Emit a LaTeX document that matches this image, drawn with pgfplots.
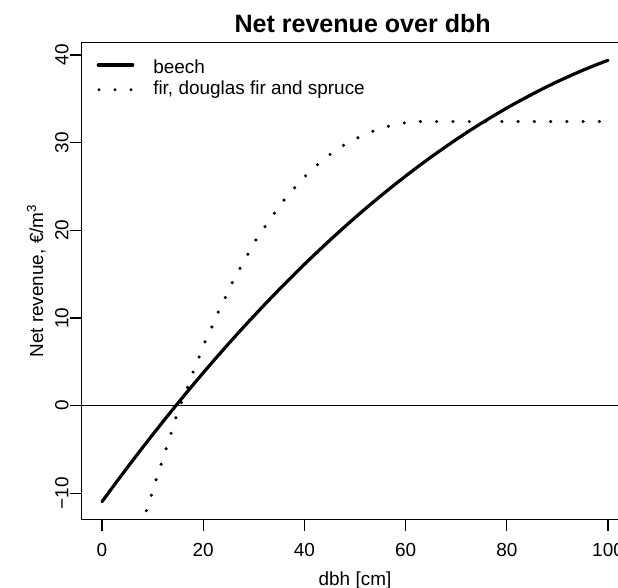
\documentclass[border=0pt]{standalone}
\usepackage{fontspec}
\setmainfont{Liberation Sans}
\usepackage{pgfplots}
\pgfplotsset{compat=1.18}
\newcommand{\rfont}{\fontsize{14.2}{17}\selectfont}
\begin{document}
\begin{tikzpicture}
\begin{axis}[
  at={(0pt,0pt)}, anchor=south west,
  scale only axis, width=409.9pt, height=357.5pt,
  xmin=-4, xmax=104, ymin=-12.95, ymax=41.39,
  axis line style={line width=1pt},
  every tick/.style={black, line width=1pt},
  tick align=outside, xtick pos=bottom, ytick pos=left,
  major tick length=8.8pt,
  xtick={0,20,40,60,80,100}, xticklabels={0,20,40,60,80,100},
  ytick={-10,0,10,20,30,40}, yticklabels={−10,0,10,20,30,40},
  tick label style={font=\rfont},
  xticklabel style={anchor=base, yshift=-19.3pt},
  yticklabel style={xshift=-1.25pt, rotate=90, anchor=base},
  xlabel={dbh [cm]}, ylabel={Net revenue, €/m\textsuperscript{3}},
  every axis x label/.style={at={(axis description cs:0.5,-0.1379)}, anchor=base, font=\rfont},
  every axis y label/.style={at={(axis description cs:-0.0707,0.5)}, rotate=90, anchor=base, font=\rfont},
  title={Net revenue over dbh},
  every axis title/.style={at={(axis description cs:0.514,1.0218)}, anchor=base, font=\fontsize{18.8}{22}\selectfont\bfseries},
  legend style={at={(axis description cs:0,1)}, anchor=north west, xshift=11.25pt, yshift=-10.5pt,
    draw=none, fill=none, inner sep=0pt, outer sep=0pt, font=\rfont,
    row sep=0pt, column sep=12.2pt, cells={anchor=base west, inner sep=0pt}},
]
\addplot[black, line width=2.4pt, line cap=round, line join=round,
  legend image code/.code={\path[draw=none, fill=none] (0pt,-4pt) rectangle (28.2pt,10pt); \draw[black, solid, line width=2.4pt, line cap=round] (1.2pt,6pt) -- (27pt,6pt);}]
coordinates {
(0,-10.94) (2.5,-8.98) (5,-7.05) (7.5,-5.16) (10,-3.31) (12.5,-1.49) (15,0.29) (17.5,2.04)
(20,3.75) (22.5,5.42) (25,7.06) (27.5,8.66) (30,10.22) (32.5,11.75) (35,13.24) (37.5,14.70)
(40,16.12) (42.5,17.50) (45,18.85) (47.5,20.16) (50,21.44) (52.5,22.68) (55,23.88) (57.5,25.05)
(60,26.18) (62.5,27.28) (65,28.34) (67.5,29.36) (70,30.35) (72.5,31.30) (75,32.22) (77.5,33.09)
(80,33.94) (82.5,34.74) (85,35.51) (87.5,36.25) (90,36.95) (92.5,37.61) (95,38.24) (97.5,38.83) (100,39.38)
};
\addlegendentry{beech}
\addplot[black, line width=1pt, forget plot] coordinates {(-4,0) (104,0)};
\addplot[black, line width=2.6pt, line cap=round, dash pattern=on 0pt off 12.2pt,
  legend image code/.code={\path[draw=none, fill=none] (0pt,-4pt) rectangle (28.2pt,10pt); \fill[black, draw=none] (1.7pt,3.75pt) circle (1.3pt); \fill[black, draw=none] (13.7pt,3.75pt) circle (1.3pt); \fill[black, draw=none] (25.7pt,3.75pt) circle (1.3pt);}]
coordinates {
(8.75,-11.97) (9.75,-10.22) (10.67,-8.47) (11.66,-6.69) (12.65,-4.94) (13.64,-3.15) (14.62,-1.37)
(15.7,0.39) (16.9,2.1) (18.0,3.84) (19.2,5.55) (20.35,7.26) (21.7,8.97) (23.0,10.68) (24.4,12.36)
(25.75,14.03) (27.3,15.67) (28.85,17.3) (30.4,18.9) (32.2,20.4) (34.05,21.94) (36.0,23.45)
(38.1,24.86) (40.2,26.19) (42.6,27.48) (45.1,28.66) (47.75,29.69) (50.6,30.56) (53.55,31.29)
(56.6,31.86) (59.5,32.22) (62.5,32.4) (100,32.4)
};
\addlegendentry{fir, douglas fir and spruce}
\end{axis}
\pgfresetboundingbox
\path (-61.3pt,-51.5pt) rectangle (402.2pt,389.5pt);
\end{tikzpicture}
\end{document}
